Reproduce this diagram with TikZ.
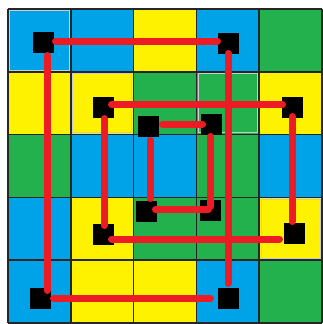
\documentclass[tikz,border=0pt]{standalone}
\usetikzlibrary{calc}
\definecolor{pblue}{HTML}{00A2E8}
\definecolor{pyellow}{HTML}{FFF200}
\definecolor{pgreen}{HTML}{22B14C}
\definecolor{pred}{HTML}{ED1C24}
\begin{document}
\begin{tikzpicture}[x=1pt,y=-1pt,
  sq/.style={fill=black,inner sep=0pt,minimum size=21pt,draw=none},
  rl/.style={draw=pred,line width=7pt,line cap=round},
  gridline/.style={draw=black!85,line width=1.5pt},
  litebox/.style={draw=black!20,line width=1pt}]
\useasboundingbox (0,0) rectangle (323,324);
\fill[white] (0,0) rectangle (323,324);
% cells
\foreach \c/\r/\col in {
  0/0/pblue,1/0/pblue,2/0/pyellow,3/0/pblue,4/0/pgreen,
  0/1/pyellow,1/1/pyellow,2/1/pgreen,3/1/pgreen,4/1/pyellow,
  0/2/pgreen,1/2/pblue,2/2/pblue,3/2/pgreen,4/2/pblue,
  0/3/pblue,1/3/pyellow,2/3/pgreen,3/3/pgreen,4/3/pyellow,
  0/4/pblue,1/4/pyellow,2/4/pyellow,3/4/pblue,4/4/pgreen}
  \fill[\col] ({8+\c*62.8},{9+\r*62.8}) rectangle ++(62.8,62.8);
% light inner outlines
\foreach \c/\r in {0/0,1/1,3/1,4/3}
  \draw[litebox] ({8+\c*62.8+1.8},{9+\r*62.8+1.8}) rectangle ++(59.2,59.2);
% grid lines
\foreach \i in {0,...,5} {
  \draw[gridline] ({8+\i*62.8},9) -- ++(0,314);
  \draw[gridline] (8,{9+\i*62.8}) -- ++(314,0);
}
% black squares
\node[sq] (A) at (43,42) {};
\node[sq] (B) at (228,43) {};
\node[sq] (C) at (40,298) {};
\node[sq] (D) at (228,298) {};
\node[sq] (E) at (103,107) {};
\node[sq] (F) at (292,107) {};
\node[sq] (G) at (103,234) {};
\node[sq] (H) at (294,233) {};
\node[sq] (I) at (148,126) {};
\node[sq] (J) at (211,124) {};
\node[sq] (K) at (146,211) {};
\node[sq] (L) at (210,210) {};
% red connectors: outer ring
\draw[rl] ($(A)+(12.5,-1)$) -- ($(B)+(-10.5,-2)$);
\draw[rl] ($(B)+(0,10.5)$) -- ($(D)+(0,-14.5)$);
\draw[rl] ($(C)+(13.5,0)$) -- ($(D)+(-17.5,0)$);
\draw[rl] ($(A)+(4,13.5)$) -- ($(C)+(7,-7.5)$);
% middle ring
\draw[rl] ($(E)+(8.5,-2.5)$) -- ($(F)+(-9.5,-2.5)$);
\draw[rl] ($(E)+(1,11.5)$) -- ($(G)+(1,-8.5)$);
\draw[rl] ($(G)+(8.5,5)$) -- ($(H)+(-14.5,6)$);
\draw[rl] ($(F)+(0,9.5)$) -- ($(H)+(-2,-11.5)$);
% inner ring
\draw[rl] ($(I)+(14.5,-2)$) -- ($(J)+(-8.5,0)$);
\draw[rl] ($(I)+(2,14.5)$) -- ($(K)+(4,-12.5)$);
\draw[rl] ($(K)+(9.5,-1.5)$) -- ($(L)+(-1.5,-0.5)$);
\draw[rl] ($(J)+(-0.5,12.5)$) -- ($(L)+(0.5,-3.5)$);
\end{tikzpicture}
\end{document}
